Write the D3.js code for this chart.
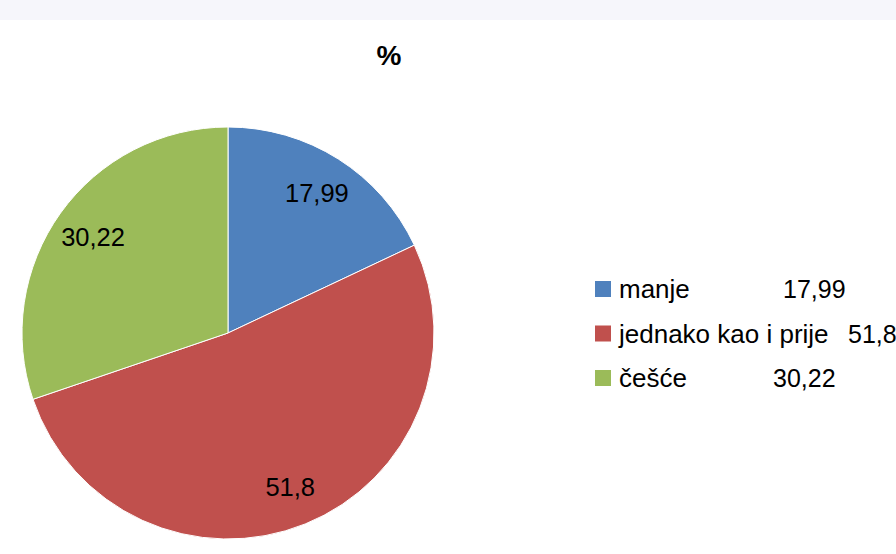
<!DOCTYPE html>
<html lang="hr">
<head>
<meta charset="UTF-8">
<title>%</title>
<style>
  body { margin: 0; background: #fff; }
  svg text { font-family: "Liberation Sans", Arial, sans-serif; fill: #000; }
</style>
</head>
<body>
<div id="chart"></div>
<script src="https://d3js.org/d3.v7.min.js"></script>
<script>
// data
const categories = ["manje", "jednako kao i prije", "češće"];
const values = [17.99, 51.8, 30.22];
const valueLabels = ["17,99", "51,8", "30,22"];
const colors = ["#4F81BD", "#C0504D", "#9BBB59"];

const width = 896, height = 554;
const cx = 228, cy = 333, radius = 206;

const svg = d3.select("#chart").append("svg")
    .attr("width", width)
    .attr("height", height);

// faint strip left over at the very top of the picture
svg.append("rect")
    .attr("x", 0).attr("y", 0)
    .attr("width", width).attr("height", 20)
    .style("fill", "#f6f6fb");

// title
svg.append("text")
    .attr("x", 389)
    .attr("y", 65)
    .attr("text-anchor", "middle")
    .style("font-size", "28px")
    .style("font-weight", "bold")
    .text("%");

const pie = d3.pie().sort(null).value(d => d.value);
const arc = d3.arc().innerRadius(0).outerRadius(radius);
const labelArc = d3.arc().innerRadius(166).outerRadius(166);

const data = categories.map((c, i) => ({ name: c, value: values[i], label: valueLabels[i], color: colors[i] }));

const g = svg.append("g")
    .attr("transform", "translate(" + cx + "," + cy + ")");

const slices = g.selectAll("g.slice")
    .data(pie(data))
    .enter()
    .append("g")
    .attr("class", "slice");

slices.append("path")
    .attr("d", arc)
    .style("fill", d => d.data.color)
    .style("stroke", "#fff")
    .style("stroke-width", 1);

slices.append("text")
    .attr("transform", d => "translate(" + labelArc.centroid(d) + ")")
    .attr("text-anchor", "middle")
    .attr("dy", "0.36em")
    .style("font-size", "25.5px")
    .text(d => d.data.label);

// legend
const legendX = 595;
const legendY = d3.scalePoint()
    .domain(categories)
    .range([289, 378]);
const valueX = [783, 848, 773];

const legend = svg.append("g")
    .selectAll("g")
    .data(data)
    .enter()
    .append("g")
    .attr("transform", d => "translate(" + legendX + "," + legendY(d.name) + ")");

legend.append("rect")
    .attr("x", 0).attr("y", -8)
    .attr("width", 16).attr("height", 16)
    .style("fill", d => d.color);

legend.append("text")
    .attr("x", 24)
    .attr("dy", "0.36em")
    .style("font-size", "26px")
    .text(d => d.name);

legend.append("text")
    .attr("x", (d, i) => valueX[i] - legendX)
    .attr("dy", "0.36em")
    .style("font-size", "25px")
    .text(d => d.label);
</script>
</body>
</html>
